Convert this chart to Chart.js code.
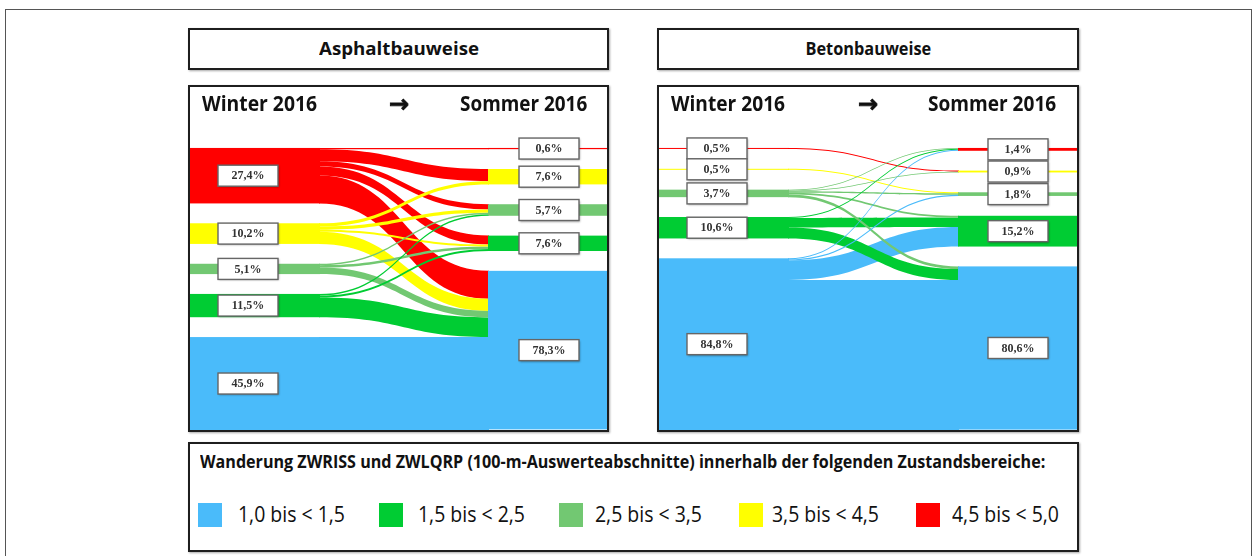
<!DOCTYPE html>
<html lang="de">
<head>
<meta charset="utf-8">
<title>Wanderung der Zustandsbereiche Winter 2016 → Sommer 2016</title>
<script src="https://cdn.jsdelivr.net/npm/chart.js"></script>
<style>
  html, body { margin: 0; padding: 0; background: #fff; }
  body { width: 1253px; height: 556px; position: relative; overflow: hidden; font-family: "Open Sans", "DejaVu Sans", sans-serif; color: #111; }
  .abs { position: absolute; }
  .frame { left: 5px; top: 9px; width: 1247px; height: 600px; box-sizing: border-box; border: 1.5px solid #555; }
  .box { position: absolute; box-sizing: border-box; border: 2px solid #1e1e1e; background: #fff; box-shadow: 1px 1px 2px rgba(0,0,0,0.35); }
  .title { display: flex; align-items: center; justify-content: center; padding-bottom: 3px; box-sizing: border-box; }
  .fit { display: inline-block; white-space: nowrap; line-height: 1; transform-origin: 0 50%; }
  .title .fit { transform-origin: 50% 50%; font-weight: 700; font-size: 18px; }
  .hdr { position: absolute; font-weight: 700; font-size: 21px; }
  .arrow { position: absolute; font-family: "DejaVu Sans", sans-serif; font-weight: 700; font-size: 24px; line-height: 1; transform: translateX(-50%); -webkit-text-stroke: 0.9px #111; }
  .lgtitle { position: absolute; left: 200px; top: 453px; font-weight: 700; font-size: 17px; }
  .sw { position: absolute; top: 503px; width: 24px; height: 24px; }
  .lgtxt { position: absolute; top: 502px; font-size: 22px; }
  canvas { position: absolute; left: 0; top: 0; }
</style>
</head>
<body>
<div class="abs frame"></div>

<div class="box title" style="left:188px; top:28px; width:421px; height:42px;"><span class="fit" data-w="160">Asphaltbauweise</span></div>
<div class="box title" style="left:657px; top:28px; width:422px; height:42px;"><span class="fit" data-w="126">Betonbauweise</span></div>

<div class="box" style="left:188px; top:85px; width:421px; height:347px;">
  <canvas id="asphalt" width="417" height="343"></canvas>
</div>
<div class="box" style="left:657px; top:85px; width:422px; height:347px;">
  <canvas id="beton" width="418" height="343"></canvas>
</div>

<span class="hdr fit" data-w="115" style="left:202px; top:93px;">Winter 2016</span>
<span class="arrow" style="left:399px; top:92px;">→</span>
<span class="hdr fit" data-w="127" style="left:460px; top:93px;">Sommer 2016</span>

<span class="hdr fit" data-w="114" style="left:671px; top:93px;">Winter 2016</span>
<span class="arrow" style="left:868px; top:92px;">→</span>
<span class="hdr fit" data-w="128" style="left:928px; top:93px;">Sommer 2016</span>

<div class="box" style="left:188px; top:442px; width:891px; height:110px;"></div>
<span class="lgtitle fit" data-w="845">Wanderung ZWRISS und ZWLQRP (100-m-Auswerteabschnitte) innerhalb der folgenden Zustandsbereiche:</span>
<div id="legend"></div>

<script>
// Zustandsbereiche (class 0 = best condition, class 4 = worst)
const zustandsbereiche = ['1,0 bis < 1,5', '1,5 bis < 2,5', '2,5 bis < 3,5', '3,5 bis < 4,5', '4,5 bis < 5,0'];
const farben = ['#4ABBFA', '#00CC33', '#72C872', '#FFFF00', '#FF0000'];

// Shares of the 100-m sections per class [%], in class order
const asphaltWinter = [45.9, 11.5, 5.1, 10.2, 27.4];
const asphaltSommer = [78.3, 7.6, 5.7, 7.6, 0.6];
const betonWinter = [84.8, 10.6, 3.7, 0.5, 0.5];
const betonSommer = [80.6, 15.2, 1.8, 0.9, 1.4];

// Migration Winter -> Sommer [%]: row = winter class, column = summer class
const asphaltWanderung = [
  [45.9, 0.0, 0.0, 0.0, 0.0],
  [9.7, 1.0, 0.8, 0.0, 0.0],
  [3.2, 1.2, 0.7, 0.0, 0.0],
  [6.0, 1.0, 1.6, 1.6, 0.0],
  [13.8, 4.4, 2.6, 6.0, 0.6]
];
const betonWanderung = [
  [74.1, 9.6, 0.6, 0.0, 0.5],
  [5.4, 4.7, 0.0, 0.0, 0.5],
  [1.3, 0.9, 0.7, 0.4, 0.4],
  [0.0, 0.0, 0.5, 0.0, 0.0],
  [0.0, 0.0, 0.0, 0.5, 0.0]
];

// Layout: nodes stacked top-down from worst class to best class
const STAPEL = [4, 3, 2, 1, 0];
const LUECKE = 9.8;        // vertical gap between nodes, in % units
const OBEN = 30.1;         // room above the nodes for the column headings, in % units
const SPALTE = { linksEnde: 31.2, rechtsStart: 71.5, labelLinks: 13.8, labelRechts: 86 };

const fmt = v => v.toFixed(1).replace('.', ',') + '%';
const sum = a => a.reduce((s, v) => s + v, 0);

function sankeyPlugin(winter, sommer, wanderung) {
  return {
    id: 'zustandSankey',
    beforeDatasetsDraw(chart) {
      const { ctx, scales: { x, y } } = chart;
      const X = v => x.getPixelForValue(v);
      const Y = v => y.getPixelForValue(v);

      // node tops in value units
      const topL = {}, topR = {};
      let a = 0;
      STAPEL.forEach(i => { topL[i] = a; a += winter[i] + LUECKE; });
      a = 0;
      STAPEL.forEach(i => { topR[i] = a; a += sommer[i] + LUECKE; });

      // links: source side ordered by target, target side ordered by source
      const offL = { ...topL }, offR = { ...topR };
      const links = [];
      STAPEL.forEach(s => STAPEL.forEach(t => {
        const v = wanderung[s][t];
        if (v > 0) {
          links.push({ s, t, v, y0: offL[s], y1: offR[t] });
          offL[s] += v; offR[t] += v;
        }
      }));

      const xL0 = Math.round(X(0)), xL1 = Math.round(X(SPALTE.linksEnde));
      const xR0 = Math.round(X(SPALTE.rechtsStart)), xR1 = Math.round(X(100));

      ctx.save();
      // flows: widest first so thin ones stay visible on top; ends tuck under the node bars
      const xs = xL1 - 1, xt = xR0 + 1;
      const xm = (xs + xt) / 2;
      links.slice().sort((p, q) => q.v - p.v).forEach(l => {
        const s0 = Y(l.y0), s1 = Y(l.y0 + l.v), t0 = Y(l.y1), t1 = Y(l.y1 + l.v);
        ctx.beginPath();
        ctx.moveTo(xs, s0);
        ctx.bezierCurveTo(xm, s0, xm, t0, xt, t0);
        ctx.lineTo(xt, t1);
        ctx.bezierCurveTo(xm, t1, xm, s1, xs, s1);
        ctx.closePath();
        ctx.fillStyle = farben[l.s];
        ctx.fill();
      });

      // node bars
      STAPEL.forEach(i => {
        ctx.fillStyle = farben[i];
        const yl0 = Y(topL[i]), yl1 = Y(topL[i] + winter[i]);
        ctx.fillRect(xL0, yl0, xL1 - xL0, yl1 - yl0);
        const yr0 = Y(topR[i]), yr1 = Y(topR[i] + sommer[i]);
        ctx.fillRect(xR0, yr0, xR1 - xR0, yr1 - yr0);
      });

      // value boxes centred on the nodes
      const box = (cx, cy, text) => {
        const w = 60, h = 21;
        ctx.save();
        ctx.shadowColor = 'rgba(0,0,0,0.35)';
        ctx.shadowBlur = 2; ctx.shadowOffsetX = 1; ctx.shadowOffsetY = 1;
        ctx.fillStyle = '#fff';
        ctx.fillRect(cx - w / 2, cy - h / 2, w, h);
        ctx.restore();
        ctx.strokeStyle = '#666';
        ctx.lineWidth = 1.4;
        ctx.strokeRect(cx - w / 2, cy - h / 2, w, h);
        ctx.fillStyle = '#333';
        ctx.font = 'bold 12px "Liberation Serif", "DejaVu Serif", serif';
        ctx.textAlign = 'center';
        ctx.textBaseline = 'middle';
        ctx.fillText(text, cx, cy + 0.5);
      };
      STAPEL.forEach(i => {
        box(Math.round(X(SPALTE.labelLinks)), Y(topL[i] + winter[i] / 2), fmt(winter[i]));
        box(Math.round(X(SPALTE.labelRechts)), Y(topR[i] + sommer[i] / 2), fmt(sommer[i]));
      });
      ctx.restore();
    }
  };
}

function panel(id, winter, sommer, wanderung) {
  const total = Math.max(sum(winter), sum(sommer)) + LUECKE * (STAPEL.length - 1);
  return new Chart(document.getElementById(id), {
    type: 'scatter',
    data: { datasets: [] },
    options: {
      responsive: false,
      animation: false,
      events: [],
      layout: { padding: 0 },
      scales: {
        x: { type: 'linear', min: 0, max: 100, display: false },
        y: { type: 'linear', reverse: true, min: -OBEN, max: total, display: false }
      },
      plugins: { legend: { display: false }, tooltip: { enabled: false } }
    },
    plugins: [sankeyPlugin(winter, sommer, wanderung)]
  });
}

panel('asphalt', asphaltWinter, asphaltSommer, asphaltWanderung);
panel('beton', betonWinter, betonSommer, betonWanderung);

// legend of the condition classes
const swatchX = [198, 379, 559, 739, 916];
const textX = [238, 418, 595, 772, 952];
const legend = document.getElementById('legend');
zustandsbereiche.forEach((name, i) => {
  const sw = document.createElement('div');
  sw.className = 'sw';
  sw.style.left = swatchX[i] + 'px';
  sw.style.background = farben[i];
  legend.appendChild(sw);
  const t = document.createElement('span');
  t.className = 'lgtxt fit';
  t.dataset.w = '107';
  t.style.left = textX[i] + 'px';
  t.textContent = name;
  legend.appendChild(t);
});

// squeeze headings to the narrow widths of the layout
function fitText() {
  document.querySelectorAll('[data-w]').forEach(el => {
    const w = +el.dataset.w;
    el.style.transform = 'scaleX(' + (w / el.offsetWidth) + ')';
  });
}
fitText();
if (document.fonts && document.fonts.ready) document.fonts.ready.then(fitText);
</script>
</body>
</html>
